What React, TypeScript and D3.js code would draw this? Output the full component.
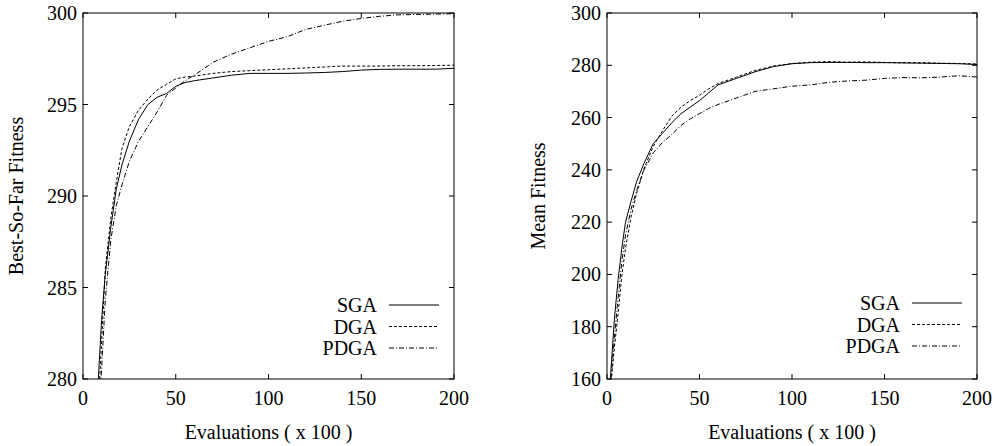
import React from "react";
import * as d3 from "d3";

// ---- Data ----
const seriesNames = ["SGA", "DGA", "PDGA"];

// Left panel: Best-So-Far Fitness
const bestEvals = [6, 8, 10, 12, 15, 18, 21, 25, 30, 35, 40, 45, 50, 55, 60, 70, 80, 90, 100, 110, 120, 130, 140, 150, 160, 170, 180, 190, 200];
const bestSGA = [276, 279.5, 283.2, 285.7, 288.3, 290.4, 291.7, 293, 294.2, 295, 295.4, 295.6, 296, 296.2, 296.3, 296.45, 296.6, 296.7, 296.7, 296.7, 296.72, 296.75, 296.8, 296.88, 296.92, 296.93, 296.93, 296.93, 296.98];
const bestDGA = [274, 278, 282, 286, 288.8, 290.8, 292.6, 293.8, 294.7, 295.3, 295.8, 296.1, 296.4, 296.5, 296.55, 296.7, 296.8, 296.85, 296.9, 296.95, 297.0, 297.05, 297.1, 297.1, 297.1, 297.12, 297.12, 297.13, 297.15];
const bestPDGA = [272, 277, 280.5, 284.3, 287.6, 289.5, 290.6, 291.9, 293, 293.8, 294.6, 295.5, 295.9, 296.3, 296.6, 297.3, 297.75, 298.1, 298.45, 298.7, 299.1, 299.33, 299.55, 299.7, 299.82, 299.9, 299.92, 299.94, 299.96];

// Right panel: Mean Fitness
const meanEvals = [0, 2, 4, 6, 8, 10, 13, 16, 20, 25, 30, 35, 40, 45, 50, 55, 60, 70, 80, 90, 100, 110, 120, 130, 140, 150, 160, 170, 180, 190, 200];
const meanSGA = [148, 162, 183, 198, 210, 220, 228, 235.5, 242.5, 250, 254, 258, 261.5, 264, 266.5, 269.5, 272.5, 275, 277.5, 279.5, 280.6, 281, 281.1, 281.1, 281, 281, 280.9, 280.8, 280.7, 280.6, 280.3];
const meanDGA = [140, 157, 172, 185, 199.5, 210, 222, 231, 240.5, 249, 255, 260.5, 264, 266.5, 268.5, 271, 273, 275.5, 278, 279.7, 280.7, 281.2, 281.4, 281.2, 281.3, 281.1, 281, 281, 280.8, 280.7, 280.5];
const meanPDGA = [145, 159, 176, 191, 205, 215, 225, 232, 240, 246.5, 250.5, 253.5, 257, 259.5, 261.5, 263.5, 265, 267.5, 270, 271, 272, 272.5, 273.5, 274, 274.3, 275, 275.3, 275.2, 275.5, 276, 275.5];

const xTicks = [0, 50, 100, 150, 200];
const bestTicks = [280, 285, 290, 295, 300];
const meanTicks = [160, 180, 200, 220, 240, 260, 280, 300];

const dashes = ["none", "3,2", "5,2,1,2"];
const FONT = "'Liberation Serif', 'Times New Roman', serif";

type PanelProps = {
  id: string;
  x0: number;
  x1: number;
  yDomain: [number, number];
  yTicks: number[];
  evals: number[];
  series: number[][];
  yTitle: string;
  yTitleX: number;
  legendRight: number;
  legendY: number;
};

function Panel(p: PanelProps) {
  const top = 13;
  const bottom = 379;
  const x = d3.scaleLinear().domain([0, 200]).range([p.x0, p.x1]);
  const y = d3.scaleLinear().domain(p.yDomain).range([bottom, top]);
  const line = d3
    .line<number>()
    .x((_, i) => x(p.evals[i]))
    .y((v) => y(v));
  const tl = 5;
  const fs = 20;
  return (
    <g>
      <defs>
        <clipPath id={p.id}>
          <rect x={p.x0} y={top} width={p.x1 - p.x0} height={bottom - top} />
        </clipPath>
      </defs>
      {xTicks.map((t) => (
        <g key={"x" + t}>
          <line x1={x(t)} x2={x(t)} y1={bottom} y2={bottom - tl} stroke="#000" />
          <line x1={x(t)} x2={x(t)} y1={top} y2={top + tl} stroke="#000" />
          <text x={x(t)} y={405} textAnchor="middle" fontSize={fs} fontFamily={FONT}>
            {t}
          </text>
        </g>
      ))}
      {p.yTicks.map((t) => (
        <g key={"y" + t}>
          <line x1={p.x0} x2={p.x0 + tl} y1={y(t)} y2={y(t)} stroke="#000" />
          <line x1={p.x1} x2={p.x1 - tl} y1={y(t)} y2={y(t)} stroke="#000" />
          <text x={p.x0 - 6} y={y(t) + 7} textAnchor="end" fontSize={fs} fontFamily={FONT}>
            {t}
          </text>
        </g>
      ))}
      <g clipPath={`url(#${p.id})`}>
        {p.series.map((s, i) => (
          <path
            key={i}
            d={line(s) || ""}
            fill="none"
            stroke="#000"
            strokeWidth={1}
            strokeDasharray={dashes[i]}
          />
        ))}
      </g>
      <rect x={p.x0} y={top} width={p.x1 - p.x0} height={bottom - top} fill="none" stroke="#000" strokeWidth={1} />
      {seriesNames.map((n, i) => {
        const ly = p.legendY + i * 21.5;
        return (
          <g key={n}>
            <text x={p.legendRight} y={ly + 7} textAnchor="end" fontSize={fs} fontFamily={FONT}>
              {n}
            </text>
            <line
              x1={p.legendRight + 12}
              x2={p.legendRight + 62}
              y1={ly}
              y2={ly}
              stroke="#000"
              strokeWidth={1}
              strokeDasharray={dashes[i]}
            />
          </g>
        );
      })}
      <text x={(p.x0 + p.x1) / 2} y={439} textAnchor="middle" fontSize={fs} fontFamily={FONT}>
        Evaluations ( x 100 )
      </text>
      <text
        transform={`translate(${p.yTitleX},${(top + bottom) / 2}) rotate(-90)`}
        textAnchor="middle"
        fontSize={fs}
        fontFamily={FONT}
      >
        {p.yTitle}
      </text>
    </g>
  );
}

export default function App() {
  return (
    <svg width={996} height={446} style={{ position: "absolute", left: 0, top: 0, background: "#fff" }}>
      <rect width={996} height={446} fill="#fff" />
      <Panel
        id="clipL"
        x0={83}
        x1={454}
        yDomain={[280, 300]}
        yTicks={bestTicks}
        evals={bestEvals}
        series={[bestSGA, bestDGA, bestPDGA]}
        yTitle="Best-So-Far Fitness"
        yTitleX={23}
        legendRight={377}
        legendY={305}
      />
      <Panel
        id="clipR"
        x0={607}
        x1={977}
        yDomain={[160, 300]}
        yTicks={meanTicks}
        evals={meanEvals}
        series={[meanSGA, meanDGA, meanPDGA]}
        yTitle="Mean Fitness"
        yTitleX={545}
        legendRight={900}
        legendY={303}
      />
    </svg>
  );
}
